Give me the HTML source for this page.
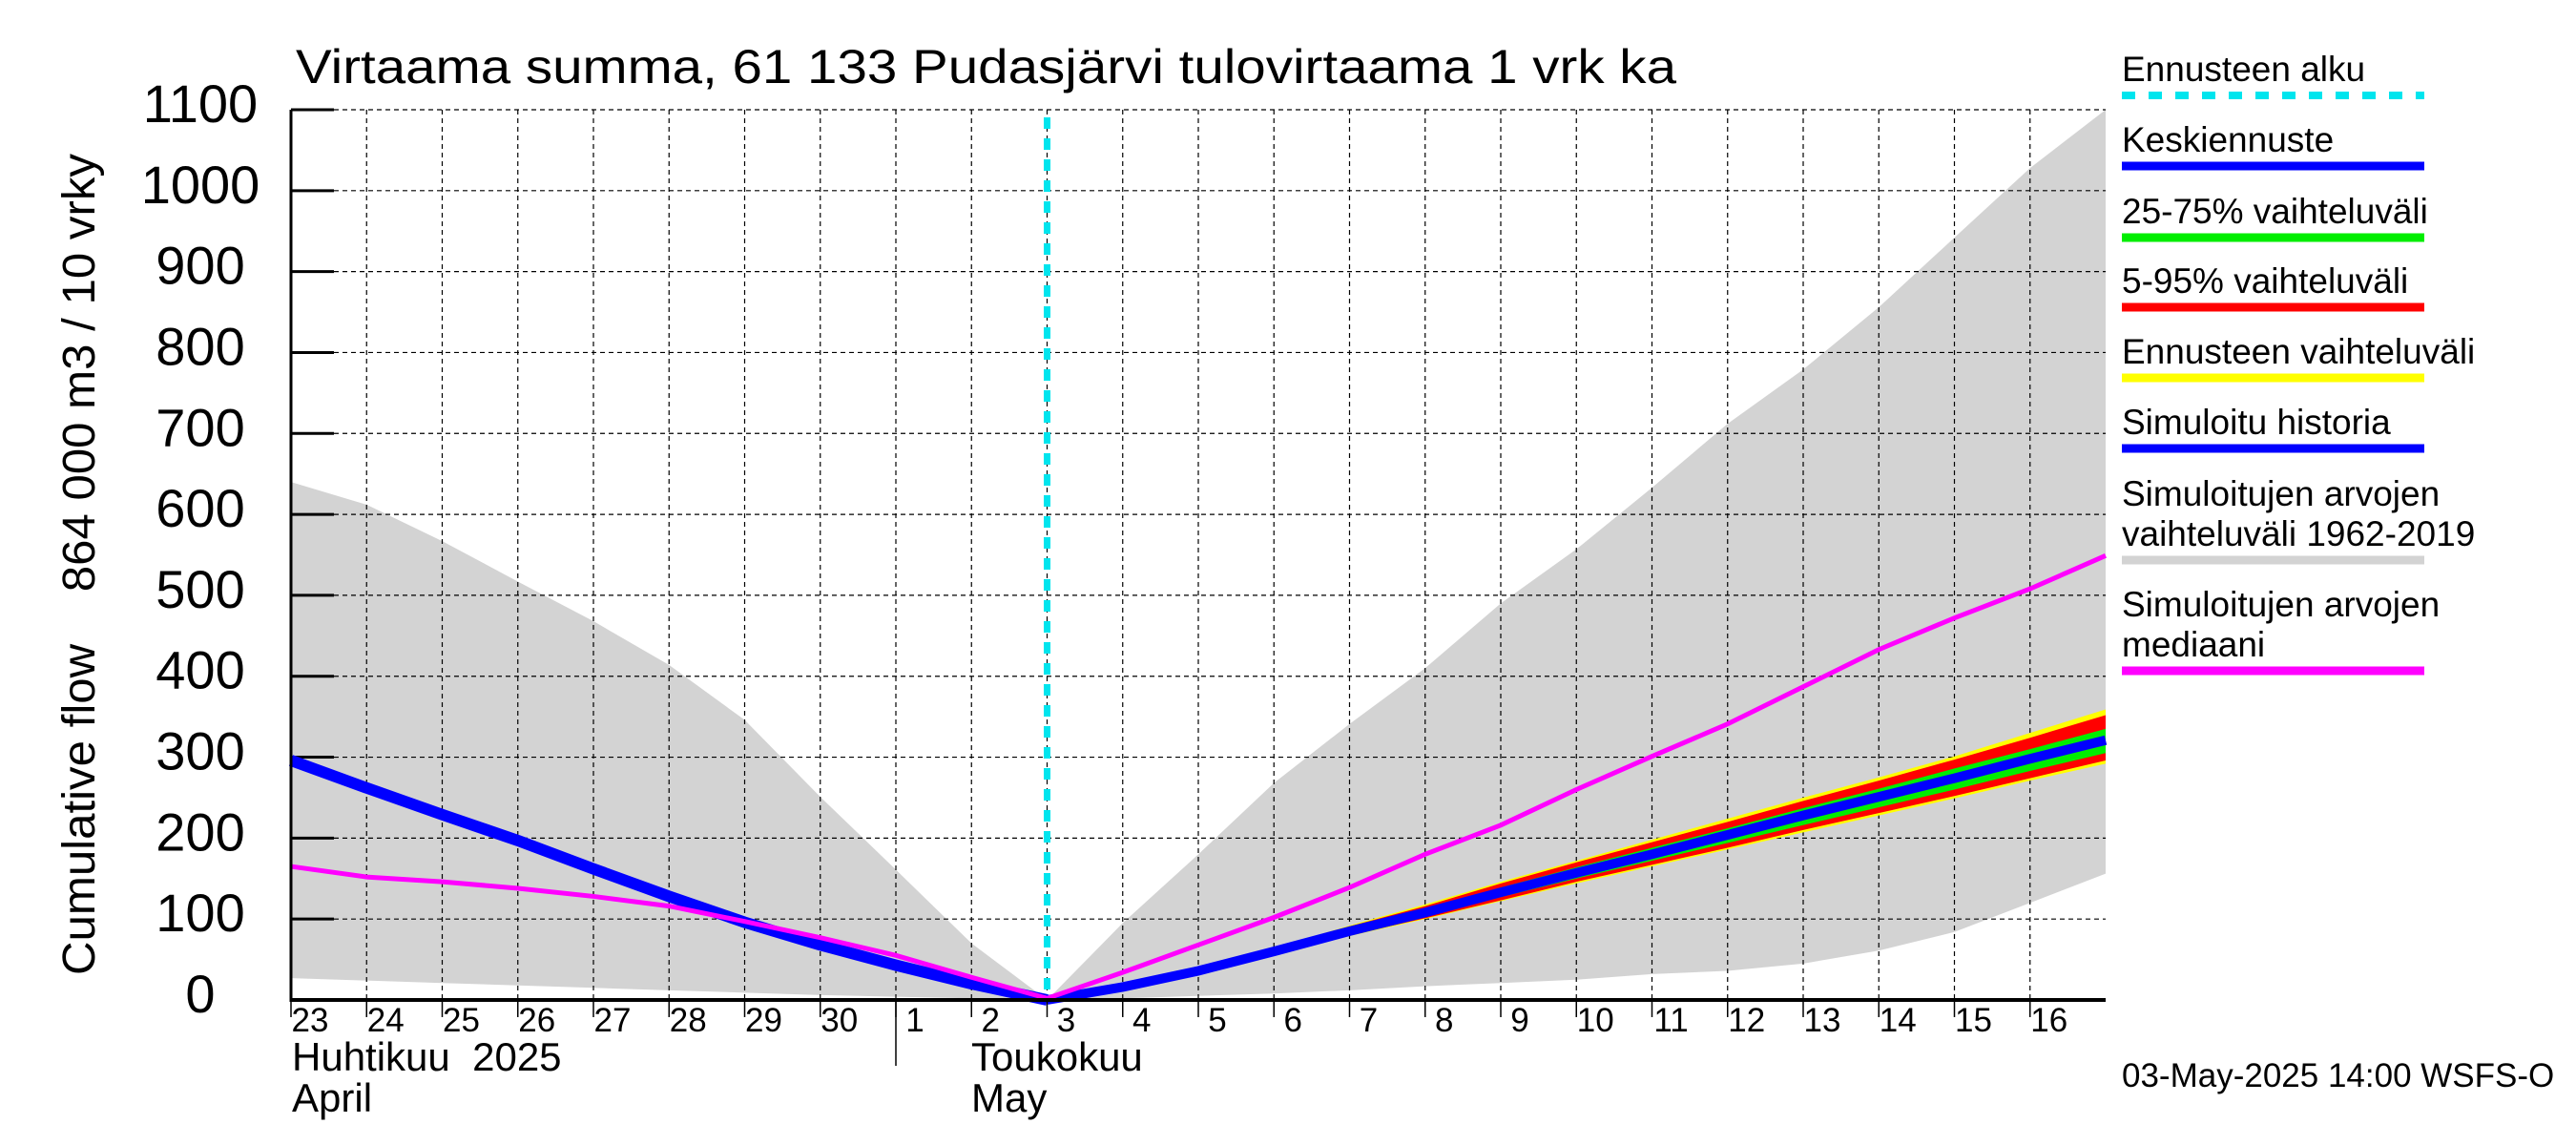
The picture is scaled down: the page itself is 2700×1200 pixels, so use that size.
<!DOCTYPE html>
<html><head><meta charset="utf-8"><style>
html,body{margin:0;padding:0;background:#fff;}
svg{display:block;font-family:"Liberation Sans",Arial,sans-serif;}
</style></head><body>
<svg id="chart" width="2700" height="1200" viewBox="0 0 2700 1200" xmlns="http://www.w3.org/2000/svg">
<rect width="2700" height="1200" fill="#fff"/>
<text x="310" y="87" font-size="50" textLength="1447" lengthAdjust="spacingAndGlyphs">Virtaama summa, 61 133 Pudasjärvi tulovirtaama 1 vrk ka</text>
<text transform="translate(99,1022) rotate(-90)" font-size="48" textLength="861" lengthAdjust="spacingAndGlyphs">Cumulative flow&#160;&#160;&#160;&#160;864 000 m3 / 10 vrky</text>
<g id="plot"></g>
<g id="legend"></g>
<text x="2224" y="1139" font-size="35">03-May-2025 14:00 WSFS-O</text>
</svg>
<script>
const days = ["23","24","25","26","27","28","29","30","1","2","3","4","5","6","7","8","9","10","11","12","13","14","15","16"];
const yTicks = [0,100,200,300,400,500,600,700,800,900,1000,1100];
const greyUpper = [640,612,567,517,468,414,346,251,161,70,0,95,180,268,341,410,490,557,633,712,779,856,942,1028,1100];
const greyLower = [27,24,21,18,15,12,9,6,4,2,0,2,5,8,12,17,21,25,32,36,45,61,84,120,156];
const history = [296,262,229,197,162,128,96,68,43,20,0];
const median = [165,152,146,138,128,116,97,77,55,28,2,34,68,102,139,180,216,260,301,341,387,433,472,508,549];
const forecastMean = [0,16,36,60,85,108,133,157,180,204,228,251,274,298,321];
const yellowHi = [0,17,39,64,92,118,146,172,198,224,250,275,301,330,359];
const redHi = [0,17,38,63,91,116,144,170,195,220,246,271,297,324,352];
const greenHi = [0,16,37,62,88,112,139,164,188,212,237,261,286,310,335];
const greenLo = [0,15,35,58,82,104,127,150,172,194,216,238,260,283,305];
const redLo = [0,15,34,57,80,101,123,146,167,188,210,231,252,274,296];
const yellowLo = [0,15,34,56,79,100,122,144,165,186,207,228,249,271,292];
const forecastStart = 10;

const NS="http://www.w3.org/2000/svg";
const L=305,R=2207,T=115,B=1048,NDAYS=24,YMAX=1100;
const xs=d=>L+(R-L)*d/NDAYS;
const ys=v=>B-(B-T)*v/YMAX;
const plot=document.getElementById('plot');
const legend=document.getElementById('legend');
function mk(tag,attrs,parent){const e=document.createElementNS(NS,tag);for(const k in attrs)e.setAttribute(k,attrs[k]);(parent||plot).appendChild(e);return e;}
function bandPath(hi,lo,off){let p='';hi.forEach((v,i)=>{p+=(i?'L':'M')+xs(i+off)+','+ys(v);});for(let i=lo.length-1;i>=0;i--)p+='L'+xs(i+off)+','+ys(lo[i]);return p+'Z';}
function linePts(arr,off){return arr.map((v,i)=>xs(i+off)+','+ys(v)).join(' ');}

let g=mk('path',{d:bandPath(greyUpper,greyLower,0),fill:'#d3d3d3'});



for(let i=1;i<NDAYS;i++){
  const gl=mk('line',{x1:xs(i),x2:xs(i),y1:T,y2:B,stroke:'#000','stroke-width':1.2,'stroke-dasharray':'5,4'});
  
  
}
yTicks.forEach(v=>{
  if(v>0){const gl=mk('line',{x1:L,x2:R,y1:ys(v),y2:ys(v),stroke:'#000','stroke-width':1.2,'stroke-dasharray':'5,4'});
  
  }
  const tk=mk('line',{x1:L,x2:L+45,y1:ys(v),y2:ys(v),stroke:'#000','stroke-width':3});
  
  
  const t=mk('text',{x:210,y:ys(v)+13,'font-size':56,'text-anchor':'middle'});
  t.textContent=v;
  
  
});

[[yellowHi,yellowLo,'#ffff00','forecast-range-band'],[redHi,redLo,'#ff0000','band-5-95'],[greenHi,greenLo,'#00ee00','band-25-75']].forEach(b=>{
  const p=mk('path',{d:bandPath(b[0],b[1],forecastStart),fill:b[2]});
  
  
});
let h=mk('polyline',{points:linePts(history,0),fill:'none',stroke:'#0000ff','stroke-width':12,'stroke-linejoin':'round'});


let fm=mk('polyline',{points:linePts(forecastMean,forecastStart),fill:'none',stroke:'#0000ff','stroke-width':10});


let md=mk('polyline',{points:linePts(median,0),fill:'none',stroke:'#ff00ff','stroke-width':5});


let cy=mk('line',{x1:xs(forecastStart),x2:xs(forecastStart),y1:T+8,y2:B,stroke:'#00e5ee','stroke-width':7,'stroke-dasharray':'12,10'});



let ax=mk('line',{x1:L,x2:L,y1:T,y2:B+2,stroke:'#000','stroke-width':3});


let bx=mk('line',{x1:L,x2:R,y1:B,y2:B,stroke:'#000','stroke-width':4});


days.forEach((d,i)=>{
  const tk=mk('line',{x1:xs(i),x2:xs(i),y1:B,y2:B+18,stroke:'#000','stroke-width':1.5});
  
  
  const t=mk('text',{x:xs(i)+20,y:1081,'font-size':35,'text-anchor':'middle'});
  t.textContent=d;
  
  
});
let sep=mk('line',{x1:xs(8),x2:xs(8),y1:B,y2:1117,stroke:'#000','stroke-width':1.5});


[['Huhtikuu\u00a0\u00a02025',306,1122],['April',306,1165],['Toukokuu',1018,1122],['May',1018,1165]].forEach(m=>{
  const t=mk('text',{x:m[1],y:m[2],'font-size':42});
  t.textContent=m[0];
  
  
});

const legendItems=[
 [['Ennusteen alku'],'#00e5ee',true,100],
 [['Keskiennuste'],'#0000ff',false,174],
 [['25-75% vaihteluväli'],'#00ee00',false,249],
 [['5-95% vaihteluväli'],'#ff0000',false,322],
 [['Ennusteen vaihteluväli'],'#ffff00',false,396],
 [['Simuloitu historia'],'#0000ff',false,470],
 [['Simuloitujen arvojen','vaihteluväli 1962-2019'],'#d3d3d3',false,587],
 [['Simuloitujen arvojen','mediaani'],'#ff00ff',false,703]
];
legendItems.forEach(it=>{
  const grp=mk('g',{},legend);
  
  
  const n=it[0].length;
  it[0].forEach((s,j)=>{
    const t=mk('text',{x:2224,y:it[3]-15-(n-1-j)*42,'font-size':37},grp);
    t.textContent=s;
  });
  const ln=mk('line',{x1:2224,x2:2541,y1:it[3],y2:it[3],stroke:it[1],'stroke-width':it[2]?8:9},grp);
  if(it[2])ln.setAttribute('stroke-dasharray','14,14');
});
</script>
</body></html>
